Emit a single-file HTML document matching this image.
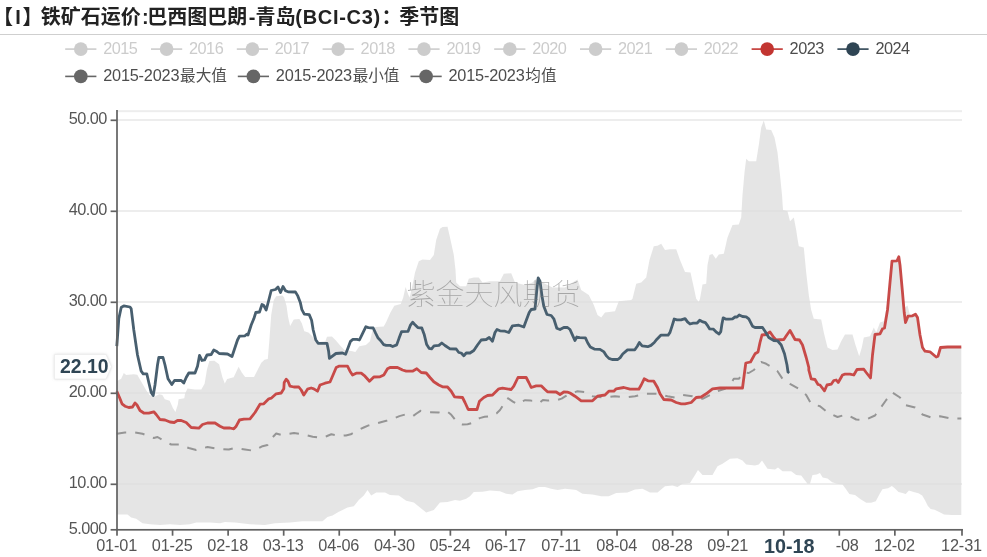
<!DOCTYPE html>
<html lang="zh"><head><meta charset="utf-8"><title>季节图</title>
<style>
html,body{margin:0;padding:0;background:#fff;}
body{width:987px;height:557px;overflow:hidden;position:relative;font-family:"Liberation Sans","Noto Sans CJK SC",sans-serif;}
svg{position:absolute;left:0;top:0;display:block;}
svg text{font-family:"Liberation Sans","Noto Sans CJK SC",sans-serif;}
</style></head><body>
<svg width="987" height="557" viewBox="0 0 987 557">
<rect width="987" height="557" fill="#fff"/>
<text y="23.8" font-size="20" font-weight="bold" fill="#222"><tspan x="-7">【</tspan><tspan x="15.2">I</tspan><tspan x="22.5">】</tspan><tspan x="40.8">铁矿石运价</tspan><tspan x="142">:</tspan><tspan x="147.2">巴西图巴朗</tspan><tspan x="248.7">-</tspan><tspan x="255.5">青岛</tspan><tspan x="295.3" letter-spacing="0.7">(BCI-C3)</tspan><tspan x="381.5">：</tspan><tspan x="399.3">季节图</tspan></text>
<rect x="0" y="34" width="987" height="1" fill="#cfcfcf"/>
<g><rect x="65.2" y="48.300000000000004" width="31.2" height="1.6" fill="#cccccc"/><circle cx="80.8" cy="49.1" r="6.85" fill="#cccccc"/><text x="103.2" y="53.8" font-size="16.3" letter-spacing="-0.5" fill="#cccccc">2015</text></g>
<g><rect x="151.0" y="48.300000000000004" width="31.2" height="1.6" fill="#cccccc"/><circle cx="166.6" cy="49.1" r="6.85" fill="#cccccc"/><text x="189.0" y="53.8" font-size="16.3" letter-spacing="-0.5" fill="#cccccc">2016</text></g>
<g><rect x="236.8" y="48.300000000000004" width="31.2" height="1.6" fill="#cccccc"/><circle cx="252.4" cy="49.1" r="6.85" fill="#cccccc"/><text x="274.8" y="53.8" font-size="16.3" letter-spacing="-0.5" fill="#cccccc">2017</text></g>
<g><rect x="322.6" y="48.300000000000004" width="31.2" height="1.6" fill="#cccccc"/><circle cx="338.2" cy="49.1" r="6.85" fill="#cccccc"/><text x="360.6" y="53.8" font-size="16.3" letter-spacing="-0.5" fill="#cccccc">2018</text></g>
<g><rect x="408.4" y="48.300000000000004" width="31.2" height="1.6" fill="#cccccc"/><circle cx="424.0" cy="49.1" r="6.85" fill="#cccccc"/><text x="446.4" y="53.8" font-size="16.3" letter-spacing="-0.5" fill="#cccccc">2019</text></g>
<g><rect x="494.2" y="48.300000000000004" width="31.2" height="1.6" fill="#cccccc"/><circle cx="509.8" cy="49.1" r="6.85" fill="#cccccc"/><text x="532.2" y="53.8" font-size="16.3" letter-spacing="-0.5" fill="#cccccc">2020</text></g>
<g><rect x="580.0" y="48.300000000000004" width="31.2" height="1.6" fill="#cccccc"/><circle cx="595.6" cy="49.1" r="6.85" fill="#cccccc"/><text x="618.0" y="53.8" font-size="16.3" letter-spacing="-0.5" fill="#cccccc">2021</text></g>
<g><rect x="665.8" y="48.300000000000004" width="31.2" height="1.6" fill="#cccccc"/><circle cx="681.4" cy="49.1" r="6.85" fill="#cccccc"/><text x="703.8" y="53.8" font-size="16.3" letter-spacing="-0.5" fill="#cccccc">2022</text></g>
<g><rect x="751.6" y="48.300000000000004" width="31.2" height="1.6" fill="#c23531"/><circle cx="767.2" cy="49.1" r="6.85" fill="#c23531"/><text x="789.6" y="53.8" font-size="16.3" letter-spacing="-0.5" fill="#4d4d4d">2023</text></g>
<g><rect x="837.4" y="48.300000000000004" width="31.2" height="1.6" fill="#2f4554"/><circle cx="853.0" cy="49.1" r="6.85" fill="#2f4554"/><text x="875.4" y="53.8" font-size="16.3" letter-spacing="-0.5" fill="#4d4d4d">2024</text></g>
<g><rect x="65.2" y="75.60000000000001" width="31.2" height="1.6" fill="#666"/><circle cx="80.8" cy="76.4" r="6.85" fill="#666"/><text x="103.2" y="81.1" font-size="16.3" letter-spacing="-0.2" fill="#4d4d4d">2015-2023<tspan dx="0.8" font-size="15.6" letter-spacing="0">最大值</tspan></text></g>
<g><rect x="237.8" y="75.60000000000001" width="31.2" height="1.6" fill="#666"/><circle cx="253.4" cy="76.4" r="6.85" fill="#666"/><text x="275.8" y="81.1" font-size="16.3" letter-spacing="-0.2" fill="#4d4d4d">2015-2023<tspan dx="0.8" font-size="15.6" letter-spacing="0">最小值</tspan></text></g>
<g><rect x="410.5" y="75.60000000000001" width="31.2" height="1.6" fill="#666"/><circle cx="426.1" cy="76.4" r="6.85" fill="#666"/><text x="448.5" y="81.1" font-size="16.3" letter-spacing="-0.2" fill="#4d4d4d">2015-2023<tspan dx="0.8" font-size="15.6" letter-spacing="0">均值</tspan></text></g>
<rect x="117" y="110.17" width="845" height="2" fill="#ededed"/>
<rect x="117" y="119.00" width="845" height="2" fill="#ededed"/>
<rect x="117" y="210.00" width="845" height="2" fill="#ededed"/>
<rect x="117" y="301.00" width="845" height="2" fill="#ededed"/>
<rect x="117" y="392.00" width="845" height="2" fill="#ededed"/>
<rect x="117" y="483.00" width="845" height="2" fill="#ededed"/>
<path d="M116.8,381.2 L121.2,378.8 L123.8,373.0 L126.2,375.0 L133.8,374.2 L137.3,374.8 L139.7,378.9 L146.2,390.2 L149.4,395.1 L154.3,396.7 L159.2,394.3 L162.4,395.1 L164.8,399.2 L169.7,400.8 L172.9,408.1 L175.4,412.1 L177.8,404.8 L178.6,399.2 L184.3,398.3 L185.1,393.5 L187.5,388.6 L194.8,389.4 L201.3,389.4 L204.6,383.8 L207.0,369.2 L209.4,361.1 L214.3,360.7 L219.1,364.3 L222.4,377.3 L224.8,383.4 L227.2,378.9 L233.7,377.3 L238.6,366.7 L241.8,372.4 L245.1,377.0 L254.0,377.0 L257.2,370.8 L261.3,362.7 L264.5,359.8 L267.8,359.1 L269.4,340.0 L271.2,315.0 L273.8,300.0 L276.2,296.2 L282.5,295.5 L284.1,297.6 L286.5,305.7 L288.1,317.0 L290.1,325.9 L293.8,319.4 L299.4,318.9 L301.9,323.5 L304.3,331.3 L308.4,332.4 L311.6,335.6 L314.9,339.7 L318.9,342.1 L325.4,341.3 L327.0,336.8 L331.9,336.5 L335.9,340.5 L340.8,346.2 L344.8,350.2 L351.3,351.1 L355.4,351.9 L359.4,346.2 L365.9,344.9 L370.0,341.3 L372.4,330.8 L375.6,327.1 L383.7,326.4 L386.2,321.9 L390.2,313.0 L394.3,305.7 L400.8,304.0 L403.2,297.6 L405.6,287.0 L408.1,294.3 L409.7,297.6 L412.5,285.0 L415.0,272.5 L418.8,261.2 L422.5,259.5 L430.0,260.0 L433.8,255.0 L436.2,240.0 L440.0,228.8 L442.5,227.0 L447.5,226.8 L450.0,237.5 L453.8,255.0 L455.5,270.0 L456.2,282.5 L460.0,286.2 L466.2,286.2 L468.8,278.8 L473.8,277.5 L478.8,277.5 L482.5,282.5 L490.0,281.2 L500.0,281.2 L503.8,273.8 L511.2,273.2 L515.0,282.5 L525.0,285.0 L532.5,282.5 L536.2,278.8 L542.5,282.5 L552.5,287.5 L565.0,287.5 L572.5,282.5 L577.5,279.5 L581.2,290.0 L588.8,295.0 L593.8,305.0 L597.5,315.0 L601.2,317.5 L605.0,312.5 L615.0,311.2 L618.8,301.2 L631.2,300.0 L632.5,298.8 L636.2,283.8 L641.2,282.5 L646.2,277.5 L649.5,260.0 L653.8,246.2 L657.5,245.8 L661.2,243.8 L665.0,250.0 L670.0,249.2 L676.2,249.2 L680.0,260.0 L685.0,272.0 L690.5,272.5 L693.8,287.5 L696.2,298.8 L698.8,302.0 L700.0,298.8 L702.5,284.5 L706.2,283.8 L707.5,265.0 L709.5,255.0 L712.5,254.0 L715.8,258.8 L718.8,254.5 L723.8,253.8 L727.5,237.5 L732.5,225.0 L738.8,224.5 L741.2,217.5 L742.5,195.0 L744.5,172.5 L746.2,158.8 L748.8,161.2 L756.2,161.2 L758.8,145.0 L761.2,127.5 L763.8,120.5 L766.2,129.5 L771.2,130.0 L774.5,137.5 L777.5,152.5 L780.0,175.0 L782.0,195.0 L783.0,210.0 L787.5,211.2 L790.0,221.2 L793.8,217.5 L796.2,230.0 L797.5,238.8 L798.8,246.2 L803.8,247.5 L806.2,272.5 L808.8,295.0 L811.2,310.0 L813.8,318.8 L821.2,319.5 L823.8,332.5 L827.5,347.5 L832.5,350.0 L837.5,349.5 L841.2,341.2 L845.0,334.5 L852.5,334.5 L855.5,345.0 L859.2,356.2 L861.8,347.5 L863.8,337.5 L870.0,336.2 L873.8,327.5 L876.2,332.5 L880.0,322.5 L883.8,321.2 L887.5,302.5 L890.0,282.5 L892.0,261.2 L897.0,260.8 L898.8,256.8 L900.0,265.0 L902.5,292.5 L903.8,303.8 L905.0,307.5 L907.5,305.5 L910.0,315.0 L915.0,314.2 L918.8,322.5 L921.2,345.0 L925.0,351.2 L930.0,351.8 L933.8,355.0 L936.2,357.0 L938.0,356.2 L940.5,347.5 L947.5,347.0 L961.3,347.0 L961.3,515.0 L951.6,515.0 L944.0,514.4 L939.3,512.1 L934.5,509.7 L930.7,509.1 L927.9,505.9 L925.0,500.2 L922.2,495.5 L918.4,493.2 L913.7,492.1 L908.9,490.4 L905.7,494.0 L903.3,493.2 L898.5,492.1 L894.7,488.3 L891.9,486.0 L888.1,488.3 L882.4,489.2 L879.6,494.0 L875.8,501.2 L871.0,502.7 L866.3,502.7 L860.6,499.3 L855.0,495.1 L849.3,494.0 L846.4,489.8 L842.6,484.5 L837.0,483.7 L832.2,482.2 L827.5,478.4 L822.7,477.5 L819.9,473.1 L816.8,474.5 L812.5,475.0 L810.0,483.8 L807.5,483.8 L801.2,475.5 L796.2,475.0 L791.2,471.2 L782.5,471.2 L778.0,467.5 L775.0,469.5 L767.5,468.8 L762.0,460.5 L758.8,464.5 L755.0,465.5 L746.2,464.5 L742.5,460.5 L737.5,458.2 L730.0,458.8 L722.5,463.8 L717.5,466.2 L712.5,475.0 L702.5,475.0 L698.0,470.0 L695.0,475.0 L690.0,483.0 L682.5,483.8 L677.5,487.0 L672.5,485.5 L665.0,486.2 L657.5,492.5 L650.0,492.5 L642.5,488.8 L635.0,489.5 L627.5,492.5 L616.2,493.0 L608.8,496.2 L601.2,496.2 L592.5,494.5 L582.5,493.8 L576.2,490.0 L570.0,489.2 L565.0,488.8 L557.5,490.0 L551.2,488.8 L545.0,487.0 L538.8,487.0 L532.5,489.2 L525.0,490.0 L517.5,491.2 L512.5,494.5 L506.2,493.8 L500.0,491.2 L490.0,490.5 L482.5,491.8 L473.8,492.0 L470.0,496.2 L466.2,498.8 L460.0,500.8 L455.0,500.0 L447.5,502.0 L440.0,502.5 L433.8,510.0 L426.2,512.5 L420.0,507.5 L413.8,502.5 L406.2,500.8 L398.8,495.5 L390.0,495.0 L385.0,492.5 L376.2,492.5 L371.2,495.5 L367.5,490.0 L363.8,495.5 L358.8,500.0 L353.8,506.2 L347.5,507.5 L340.0,511.2 L338.8,511.8 L332.5,515.5 L327.5,517.0 L322.5,521.2 L302.5,521.2 L290.0,522.5 L275.0,523.2 L265.0,525.0 L250.0,524.2 L235.0,522.5 L225.0,522.0 L220.0,523.2 L210.0,522.5 L196.2,522.5 L190.0,524.2 L180.0,525.0 L170.0,524.2 L160.0,525.0 L150.0,524.2 L142.5,523.2 L136.2,518.8 L131.2,517.5 L127.5,514.5 L116.8,514.5Z" fill="#dcdcdc" fill-opacity="0.75" stroke="none"/>
<path d="M116.8,433.8 L125.0,432.5 L135.0,432.5 L142.5,433.8 L153.8,438.0 L157.5,437.0 L162.5,440.0 L171.2,444.5 L178.8,444.5 L188.8,448.0 L196.2,450.0 L207.5,447.0 L217.5,448.8 L228.8,449.5 L235.0,448.0 L245.0,449.5 L253.8,450.8 L262.5,446.2 L267.5,445.0 L271.2,438.8 L276.2,433.5 L281.9,435.1 L287.6,434.0 L294.0,433.0 L302.1,434.3 L312.7,436.7 L321.6,438.0 L326.5,436.2 L331.3,434.3 L340.2,435.9 L345.9,435.4 L350.8,434.3 L358.1,430.2 L363.7,427.5 L368.6,425.4 L376.7,423.3 L387.2,420.5 L394.5,418.1 L399.4,416.1 L405.1,414.5 L412.4,416.5 L412.4,416.5 L416.5,413.5 L420.5,410.8 L428.6,412.1 L438.9,412.4 L443.2,411.3 L447.3,411.6 L451.3,414.8 L455.1,419.7 L458.6,422.9 L462.7,424.6 L467.6,424.2 L472.4,422.9 L479.7,418.1 L484.6,416.8 L488.9,416.5 L492.7,414.0 L496.7,413.2 L500.0,410.0 L503.2,405.1 L505.6,400.2 L508.1,398.3 L512.9,401.6 L517.5,404.3 L521.0,401.9 L525.1,400.2 L530.8,400.6 L535.6,400.7 L539.7,402.7 L542.9,399.9 L547.8,400.6 L552.6,400.2 L557.5,399.9 L561.6,398.6 L565.6,396.2 L570.0,393.8 L577.5,391.2 L585.0,392.0 L592.5,396.2 L602.5,397.5 L615.0,396.2 L625.0,397.5 L635.0,396.2 L645.0,393.8 L657.5,393.8 L667.5,396.2 L675.0,397.5 L682.5,395.0 L692.5,396.2 L702.5,398.8 L710.0,395.0 L717.5,391.2 L725.0,388.8 L730.0,385.0 L733.8,378.8 L738.8,378.8 L743.8,372.5 L748.8,373.0 L753.8,370.0 L758.8,365.0 L761.2,362.0 L766.2,363.8 L772.5,367.5 L777.5,371.2 L782.5,378.8 L790.0,383.8 L798.8,388.8 L806.2,395.0 L811.2,403.8 L820.0,406.2 L827.5,412.5 L837.5,417.0 L846.2,414.5 L856.2,419.5 L865.0,420.0 L875.0,415.5 L880.0,408.8 L886.2,400.0 L892.5,392.5 L900.0,397.5 L905.0,405.0 L915.0,407.5 L922.5,414.5 L932.5,418.0 L940.0,416.2 L951.2,418.5 L961.3,418.5" fill="none" stroke="#959595" stroke-width="2" stroke-dasharray="9.5 9" stroke-dashoffset="0" stroke-linejoin="round"/>
<path d="M116.8,391.2 L119.5,397.5 L122.0,403.8 L125.0,406.2 L128.8,407.5 L132.5,407.0 L135.0,403.0 L137.0,405.0 L140.0,410.5 L143.8,413.0 L148.8,413.2 L153.8,411.8 L156.2,414.5 L160.0,419.5 L165.0,420.0 L170.0,422.0 L174.2,422.5 L177.5,420.5 L181.2,420.5 L186.2,422.5 L191.2,427.5 L198.8,428.2 L202.5,424.5 L207.5,423.0 L215.0,423.0 L220.0,426.2 L223.8,428.0 L230.0,428.0 L233.8,428.8 L236.2,426.2 L239.5,420.0 L243.8,419.2 L250.0,418.8 L255.0,412.5 L260.0,404.2 L263.8,403.8 L268.8,398.8 L271.2,398.2 L276.2,393.8 L281.2,393.0 L283.8,388.8 L284.2,382.5 L286.2,379.2 L288.0,381.2 L290.0,386.2 L293.8,387.0 L298.8,387.0 L301.2,390.0 L303.8,395.0 L307.5,389.2 L311.2,388.0 L313.8,388.8 L317.5,391.2 L320.0,385.0 L325.0,383.2 L330.0,382.0 L332.5,376.2 L336.2,367.5 L338.8,366.2 L340.0,366.2 L347.5,366.2 L350.0,371.2 L352.5,375.0 L356.2,373.2 L361.2,373.2 L365.0,376.2 L369.5,381.2 L373.8,377.0 L380.0,376.8 L383.8,375.0 L387.5,368.8 L390.0,367.5 L397.5,367.5 L402.5,370.0 L406.2,371.2 L412.5,371.2 L416.8,368.8 L421.2,372.5 L426.2,373.0 L430.0,377.5 L433.8,381.8 L438.8,385.0 L442.5,386.8 L447.5,387.0 L451.2,391.2 L454.5,396.8 L462.5,397.5 L465.0,402.5 L468.2,409.5 L477.0,409.5 L479.5,401.2 L483.8,397.5 L487.5,395.5 L492.5,395.0 L498.8,388.8 L502.5,388.2 L511.2,389.5 L513.8,386.2 L518.0,377.5 L526.2,377.5 L528.8,382.5 L531.2,387.5 L536.2,385.8 L541.2,385.8 L545.0,389.5 L547.5,391.8 L556.2,392.0 L560.0,394.5 L563.8,392.0 L567.5,392.2 L570.0,393.0 L575.0,396.2 L581.2,400.8 L592.5,400.8 L597.5,396.2 L605.0,395.0 L608.8,391.2 L613.8,391.2 L616.2,388.8 L623.8,387.5 L630.0,389.2 L638.8,389.2 L641.2,385.0 L644.2,378.8 L648.0,380.8 L653.8,381.2 L657.5,387.5 L660.0,393.8 L663.8,399.5 L671.2,400.0 L676.2,402.5 L681.2,403.8 L685.0,403.8 L691.2,402.5 L696.2,397.5 L701.2,397.0 L706.2,393.8 L712.5,388.8 L720.0,388.0 L742.5,388.0 L744.2,375.0 L745.8,363.0 L750.5,362.0 L755.0,353.8 L758.0,352.0 L760.0,342.5 L762.0,335.0 L766.2,334.5 L770.0,332.0 L773.8,337.5 L776.2,340.0 L783.8,339.5 L786.8,335.0 L790.0,330.5 L792.5,335.0 L795.0,339.5 L799.5,340.0 L802.5,345.0 L806.2,357.5 L808.8,367.5 L808.8,370.0 L811.2,378.8 L815.0,379.5 L818.0,384.5 L820.0,385.0 L824.5,390.8 L827.0,385.0 L831.2,384.2 L833.8,380.5 L836.2,380.0 L838.2,382.5 L842.5,375.0 L845.0,374.2 L850.0,374.2 L853.8,375.0 L857.0,369.5 L863.8,369.2 L866.2,372.5 L870.5,378.0 L872.5,355.0 L875.0,334.5 L880.0,333.8 L882.5,328.8 L884.5,328.0 L887.5,310.0 L890.0,282.5 L892.0,261.2 L897.0,260.8 L898.8,256.8 L900.0,265.0 L902.5,292.5 L904.2,312.5 L905.5,322.5 L908.0,316.2 L912.5,315.8 L915.5,314.2 L917.5,317.5 L920.0,335.0 L922.5,347.5 L925.0,351.2 L930.0,351.8 L933.8,355.0 L936.2,357.0 L938.0,356.2 L940.5,347.5 L947.5,347.0 L961.3,347.0" fill="none" stroke="#c84a48" stroke-width="2.8" stroke-linejoin="round" stroke-linecap="butt"/>
<path d="M116.8,346.2 L118.8,318.8 L121.2,307.5 L123.8,305.8 L130.0,307.0 L131.2,308.8 L133.8,330.0 L137.5,355.0 L141.2,371.2 L143.2,373.8 L146.8,373.8 L148.8,382.5 L151.2,392.5 L153.2,395.5 L155.0,385.0 L157.5,365.0 L158.8,357.5 L163.0,357.5 L165.0,365.0 L168.0,378.8 L171.8,384.5 L174.5,380.5 L181.2,380.5 L183.8,383.0 L186.2,377.5 L188.8,373.0 L195.0,373.0 L197.5,366.2 L199.5,355.5 L202.0,360.5 L204.5,360.0 L207.0,355.0 L211.2,354.5 L213.8,350.0 L216.2,351.2 L219.2,353.5 L227.5,354.0 L232.0,356.5 L235.0,347.5 L237.5,340.0 L239.5,336.2 L245.0,335.8 L246.8,334.2 L248.0,335.0 L251.2,325.0 L253.8,318.8 L255.8,312.5 L259.5,312.0 L262.0,304.5 L263.8,305.5 L266.2,310.0 L268.8,300.0 L271.2,290.5 L275.5,289.5 L278.0,287.0 L280.5,292.5 L283.0,286.5 L285.5,290.8 L288.0,291.8 L295.0,292.0 L295.4,291.9 L297.8,295.9 L300.3,302.4 L301.9,309.7 L304.3,314.1 L309.2,314.6 L311.6,320.2 L313.2,330.0 L315.7,339.7 L318.1,343.3 L327.0,343.4 L328.6,351.1 L329.4,358.3 L335.9,353.5 L342.4,353.0 L345.6,354.3 L348.1,347.8 L350.5,341.3 L352.9,339.4 L357.0,339.4 L359.4,340.0 L361.9,334.8 L365.9,326.7 L368.3,327.6 L373.2,328.0 L375.6,333.2 L378.1,338.1 L380.5,340.5 L383.7,344.6 L386.2,345.4 L390.2,345.4 L392.7,346.5 L396.7,344.9 L399.1,338.1 L401.6,331.6 L408.1,331.3 L410.5,325.1 L412.6,322.2 L414.5,324.3 L417.8,327.6 L421.8,328.0 L424.3,334.8 L426.7,344.6 L429.1,348.3 L431.6,348.9 L434.0,345.9 L438.9,345.4 L441.8,343.0 L445.0,345.5 L450.0,348.8 L456.2,349.0 L458.8,352.5 L461.2,353.0 L463.8,355.8 L466.2,353.0 L470.0,353.0 L473.8,350.5 L477.5,345.0 L481.2,340.0 L486.2,339.5 L489.2,337.5 L492.5,341.2 L495.0,332.5 L497.0,329.5 L500.0,330.8 L505.0,331.2 L508.8,332.5 L512.5,325.8 L518.8,325.2 L523.8,327.0 L526.2,320.5 L529.2,312.5 L531.2,309.5 L535.0,309.0 L536.8,290.0 L538.2,278.0 L540.0,281.2 L542.0,296.2 L543.8,306.2 L547.0,314.5 L551.2,315.5 L553.8,318.8 L556.8,328.2 L560.0,329.5 L563.8,327.5 L567.5,327.5 L570.0,329.5 L572.4,334.9 L574.9,340.5 L576.8,337.0 L579.7,337.6 L585.4,337.8 L587.8,343.0 L590.3,347.0 L594.3,349.1 L600.0,349.4 L604.0,351.9 L606.5,355.9 L608.9,358.4 L612.1,359.5 L617.8,359.5 L620.2,357.6 L622.7,354.0 L627.5,349.9 L634.8,349.8 L637.3,346.2 L639.4,342.5 L642.1,345.9 L647.8,346.7 L651.0,345.4 L654.3,342.5 L656.7,339.4 L660.8,335.2 L668.1,335.2 L670.0,332.4 L672.1,325.9 L674.2,319.0 L677.0,319.9 L681.0,319.9 L685.1,318.6 L687.5,321.9 L690.0,324.0 L693.2,323.2 L697.2,323.0 L699.7,320.3 L702.1,321.6 L705.4,322.7 L707.8,325.9 L709.7,328.9 L713.5,329.2 L716.7,332.4 L719.1,334.0 L720.8,331.6 L721.9,324.3 L723.2,317.8 L725.6,319.0 L728.9,319.1 L732.5,318.8 L735.0,317.0 L737.0,317.0 L739.2,315.0 L742.5,316.5 L746.2,316.8 L748.8,318.8 L752.5,326.2 L755.0,327.5 L762.5,327.5 L765.0,331.2 L768.8,337.5 L773.8,340.5 L777.5,340.8 L781.2,345.0 L784.5,353.8 L787.0,365.0 L788.0,372.0 L789.2,373.0" fill="none" stroke="#485f6f" stroke-width="2.8" stroke-linejoin="round" stroke-linecap="butt"/>
<text x="493.5" y="304.5" font-size="29" text-anchor="middle" fill="#787878" fill-opacity="0.58" font-weight="100">紫金天风期货</text>
<rect x="116.15" y="110" width="1.7" height="420.6" fill="#626262"/>
<rect x="116.15" y="528.95" width="846.7" height="1.7" fill="#626262"/>
<rect x="110.6" y="119.45" width="6.4" height="1.7" fill="#626262"/><text x="106.9" y="124.3" font-size="16.3" letter-spacing="-0.5" text-anchor="end" fill="#555">50.00</text>
<rect x="110.6" y="210.45" width="6.4" height="1.7" fill="#626262"/><text x="106.9" y="215.3" font-size="16.3" letter-spacing="-0.5" text-anchor="end" fill="#555">40.00</text>
<rect x="110.6" y="301.45" width="6.4" height="1.7" fill="#626262"/><text x="106.9" y="306.3" font-size="16.3" letter-spacing="-0.5" text-anchor="end" fill="#555">30.00</text>
<rect x="110.6" y="392.45" width="6.4" height="1.7" fill="#626262"/><text x="106.9" y="397.3" font-size="16.3" letter-spacing="-0.5" text-anchor="end" fill="#555">20.00</text>
<rect x="110.6" y="483.45" width="6.4" height="1.7" fill="#626262"/><text x="106.9" y="488.3" font-size="16.3" letter-spacing="-0.5" text-anchor="end" fill="#555">10.00</text>
<rect x="110.6" y="528.95" width="6.4" height="1.7" fill="#626262"/><text x="106.9" y="533.8" font-size="16.3" letter-spacing="-0.5" text-anchor="end" fill="#555">5.000</text>
<rect x="116.15" y="529" width="1.7" height="6.7" fill="#626262"/><text x="116.6" y="550.9" font-size="16.3" letter-spacing="-0.15" text-anchor="middle" fill="#555">01-01</text>
<rect x="171.71" y="529" width="1.7" height="6.7" fill="#626262"/><text x="172.2" y="550.9" font-size="16.3" letter-spacing="-0.15" text-anchor="middle" fill="#555">01-25</text>
<rect x="227.27" y="529" width="1.7" height="6.7" fill="#626262"/><text x="227.7" y="550.9" font-size="16.3" letter-spacing="-0.15" text-anchor="middle" fill="#555">02-18</text>
<rect x="282.83" y="529" width="1.7" height="6.7" fill="#626262"/><text x="283.3" y="550.9" font-size="16.3" letter-spacing="-0.15" text-anchor="middle" fill="#555">03-13</text>
<rect x="338.40" y="529" width="1.7" height="6.7" fill="#626262"/><text x="338.8" y="550.9" font-size="16.3" letter-spacing="-0.15" text-anchor="middle" fill="#555">04-06</text>
<rect x="393.96" y="529" width="1.7" height="6.7" fill="#626262"/><text x="394.4" y="550.9" font-size="16.3" letter-spacing="-0.15" text-anchor="middle" fill="#555">04-30</text>
<rect x="449.52" y="529" width="1.7" height="6.7" fill="#626262"/><text x="450.0" y="550.9" font-size="16.3" letter-spacing="-0.15" text-anchor="middle" fill="#555">05-24</text>
<rect x="505.08" y="529" width="1.7" height="6.7" fill="#626262"/><text x="505.5" y="550.9" font-size="16.3" letter-spacing="-0.15" text-anchor="middle" fill="#555">06-17</text>
<rect x="560.64" y="529" width="1.7" height="6.7" fill="#626262"/><text x="561.1" y="550.9" font-size="16.3" letter-spacing="-0.15" text-anchor="middle" fill="#555">07-11</text>
<rect x="616.20" y="529" width="1.7" height="6.7" fill="#626262"/><text x="616.7" y="550.9" font-size="16.3" letter-spacing="-0.15" text-anchor="middle" fill="#555">08-04</text>
<rect x="671.77" y="529" width="1.7" height="6.7" fill="#626262"/><text x="672.2" y="550.9" font-size="16.3" letter-spacing="-0.15" text-anchor="middle" fill="#555">08-28</text>
<rect x="727.33" y="529" width="1.7" height="6.7" fill="#626262"/><text x="727.8" y="550.9" font-size="16.3" letter-spacing="-0.15" text-anchor="middle" fill="#555">09-21</text>
<rect x="782.89" y="529" width="1.7" height="6.7" fill="#626262"/><rect x="838.45" y="529" width="1.7" height="6.7" fill="#626262"/><text x="838.9" y="550.9" font-size="16.3" letter-spacing="-0.15" text-anchor="middle" fill="#555">11-08</text>
<rect x="894.01" y="529" width="1.7" height="6.7" fill="#626262"/><text x="894.5" y="550.9" font-size="16.3" letter-spacing="-0.15" text-anchor="middle" fill="#555">12-02</text>
<rect x="961.15" y="529" width="1.7" height="6.7" fill="#626262"/><text x="961.5" y="550.9" font-size="16.3" letter-spacing="-0.15" text-anchor="middle" fill="#555">12-31</text>
<rect x="749" y="536.5" width="86.5" height="20.5" fill="#fff"/><text x="789.3" y="552.5" font-size="19.8" font-weight="bold" text-anchor="middle" fill="#2f4554">10-18</text>
<defs><filter id="sh" x="-20%" y="-30%" width="140%" height="160%"><feGaussianBlur stdDeviation="1.4"/></filter></defs><path d="M54.5,354.5 H106 L111.5,366.7 L106,379 H54.5 Z" fill="#9a9a9a" fill-opacity="0.45" filter="url(#sh)"/><path d="M54.5,354.5 H106 L111.5,366.7 L106,379 H54.5 Z" fill="#fefefe" stroke="#ececec" stroke-width="0.8"/><text x="84.2" y="372.6" font-size="19.4" font-weight="bold" text-anchor="middle" fill="#2f4554">22.10</text>
</svg></body></html>
